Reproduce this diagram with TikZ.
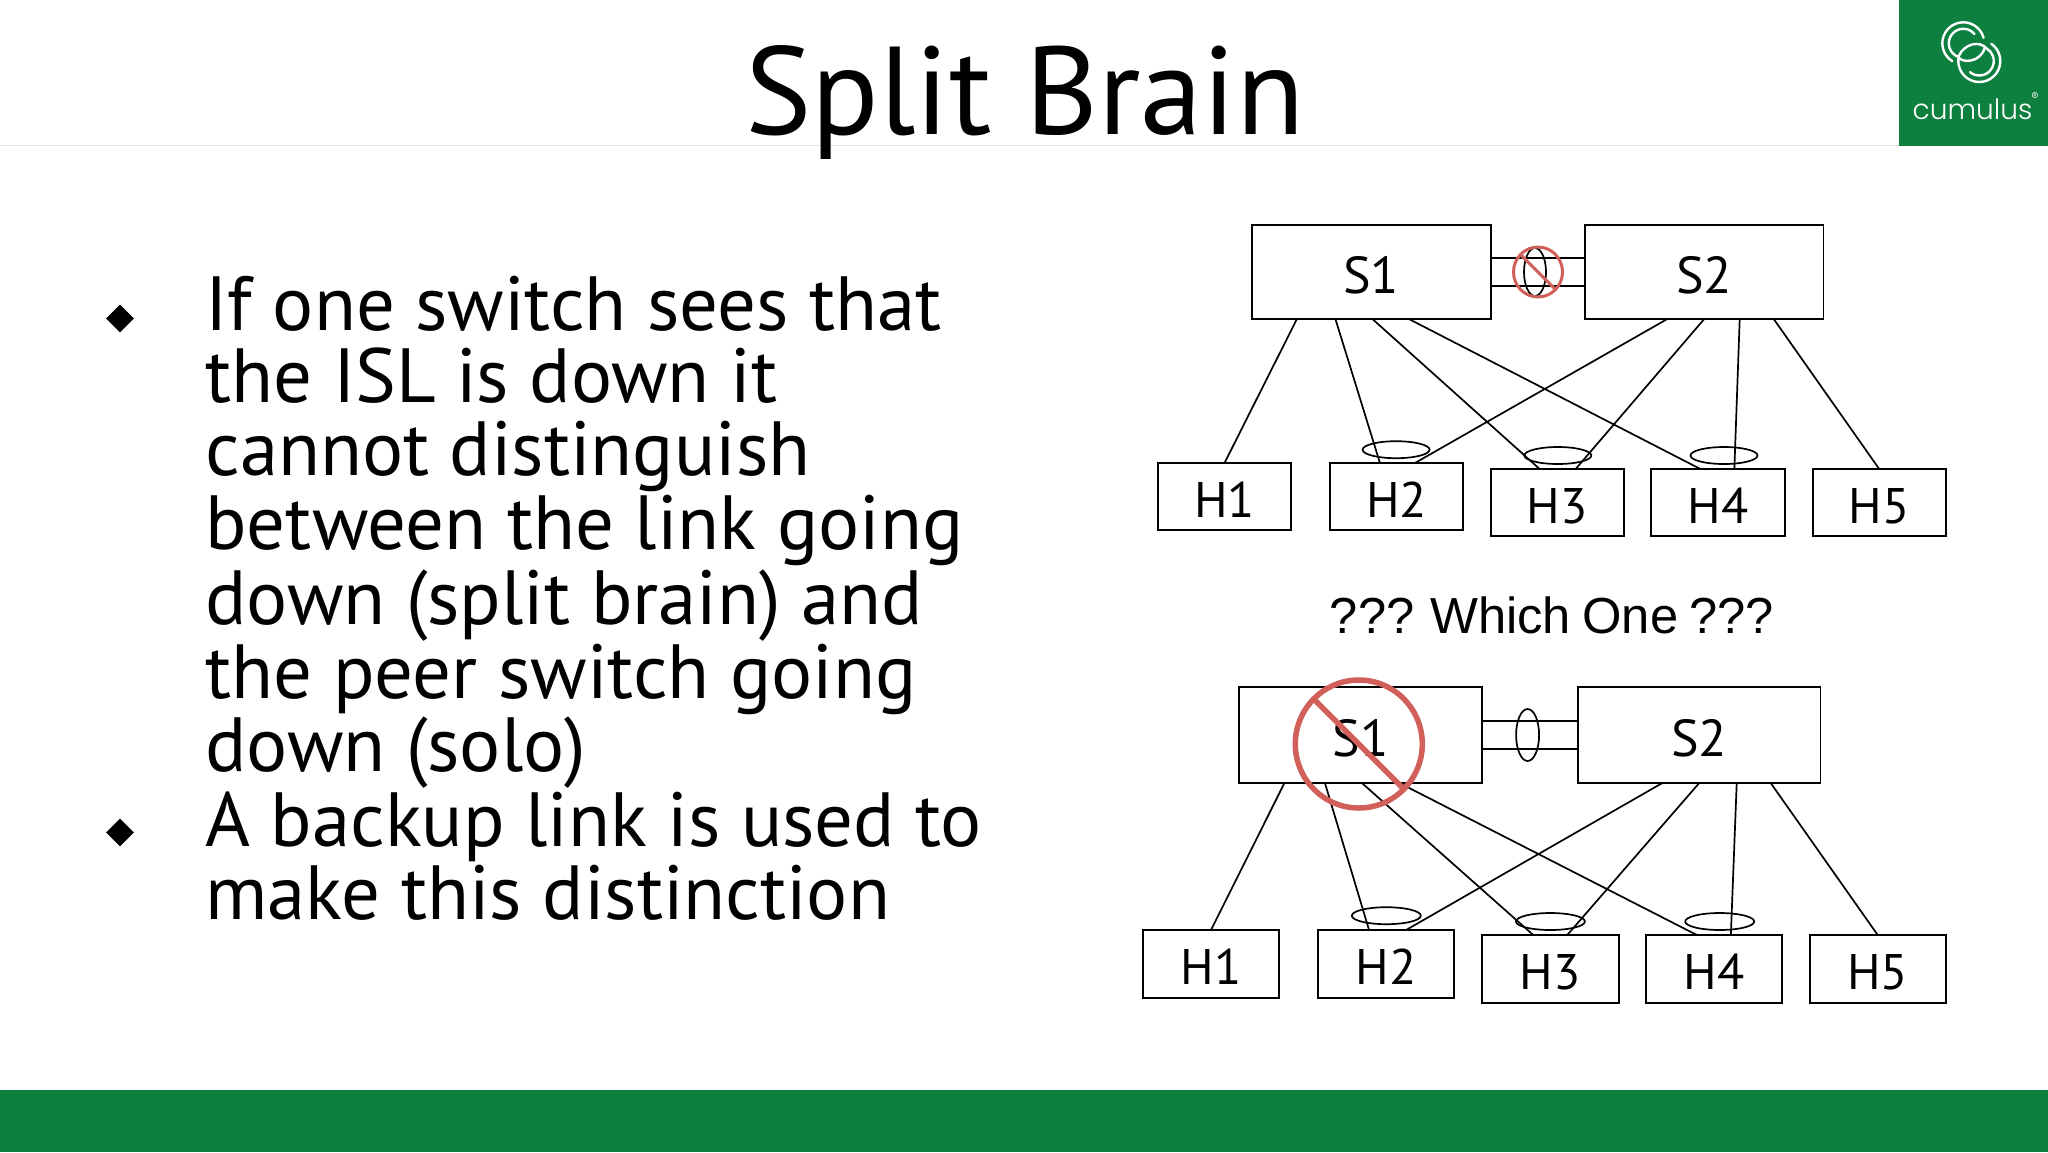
\documentclass[tikz,border=0pt]{standalone}
\usepackage{fontspec}
\setmainfont{PT Sans}
\newfontfamily\arialf[WordSpace=0.8]{Liberation Sans}
\newfontfamily\logof{Poppins Light}
\usetikzlibrary{shapes.geometric}
\definecolor{cgreen}{HTML}{0D7F3E}
\definecolor{cred}{HTML}{D2605A}
\tikzset{
  boxn/.style={draw=black,line width=1.9pt,fill=white,inner sep=0pt,outer sep=0pt,align=center,text height=41pt,text depth=0pt,font=\fontsize{50}{50}\selectfont},
  sw/.style={boxn,minimum width=238.8pt,minimum height=94pt,text height=42.5pt,font=\fontsize{52}{52}\selectfont},
  swb/.style={boxn,minimum width=242.8pt,minimum height=96pt,text height=42.5pt,font=\fontsize{52}{52}\selectfont},
  hst/.style={boxn,minimum width=133.3pt,minimum height=67pt},
  hstb/.style={boxn,minimum width=136.3pt,minimum height=68pt},
  lnk/.style={draw=black,line width=1.7pt},
  lag/.style={draw=black,line width=1.7pt,ellipse,minimum width=0pt,inner sep=0pt,outer sep=0pt},
  nope/.style={draw=cred,ellipse,inner sep=0pt,outer sep=0pt},
  slash/.style={draw=cred,line cap=round},
  bodyt/.style={anchor=base west,inner sep=0pt,outer sep=0pt,font=\fontsize{76.8}{76.8}\selectfont},
  bull/.style={diamond,fill=black,inner sep=0pt,minimum width=28pt,minimum height=28pt},
  ring/.style={draw=white,line width=2.4pt,line cap=round}
}
\begin{document}
\begin{tikzpicture}[x=1pt,y=-1pt]
\useasboundingbox (0,0) rectangle (2048,1152);
\fill[white] (0,0) rectangle (2048,1152);
% header and footer
\draw[draw=black!12,line width=1.2pt] (0,145.5) -- (1899,145.5);
\fill[cgreen] (1899,0) rectangle (2048,146);
\fill[cgreen] (0,1090) rectangle (2048,1152);
% title
\node[anchor=base,inner sep=0pt,font=\fontsize{125}{125}\selectfont] (title) at (1025,134) {Split Brain};
% logo
\begin{scope}[shift={(1963.3,43.3)},x=1pt,y=1pt]
  \draw[ring] (-122:21) arc[start angle=-122,delta angle=-223,radius=21pt];
  \draw[ring] (40:14.5) arc[start angle=40,delta angle=210,radius=14.5pt]
     .. controls (-2,-20) and (18,-20) .. (21.7,-3.3);
\end{scope}
\begin{scope}[shift={(1979.3,61)},x=1pt,y=1pt]
  \draw[ring] (55:21) arc[start angle=55,delta angle=-250,radius=21pt]
     .. controls (-15,17) and (0,21) .. (7.3,12.5);
  \draw[ring] (-130:14.5) arc[start angle=-130,delta angle=190,radius=14.5pt];
\end{scope}
\node[anchor=base,inner sep=0pt,text=white,font=\logof\fontsize{28}{28}\selectfont] (logotext) at (1972.5,119) {cumulus};
\node[anchor=center,inner sep=0pt,text=white,font=\fontsize{11}{11}\selectfont] (logoreg) at (2035,97) {®};
% body
\node[bull] (b1) at (120,318.5) {};
\node[bull] (b2) at (120,832.5) {};
\node[bodyt] (t1) at (205.5,330) {If one switch sees that};
\node[bodyt] (t2) at (205.5,402) {the ISL is down it};
\node[bodyt] (t3) at (205.5,475) {cannot distinguish};
\node[bodyt] (t4) at (205.5,549) {between the link going};
\node[bodyt] (t5) at (205.5,624) {down (split brain) and};
\node[bodyt] (t6) at (205.5,698) {the peer switch going};
\node[bodyt] (t7) at (205.5,771) {down (solo)};
\node[bodyt] (t8) at (205.5,846) {A backup link is used to};
\node[bodyt] (t9) at (205.5,919.5) {make this distinction};
% top diagram
\node[sw] (s1a) at (1371.3,272) {S1};
\node[sw] (s2a) at (1704.1,272) {S2};
\node[hst] (h1a) at (1224.5,496.5) {H1};
\node[hst] (h2a) at (1396.6,496.5) {H2};
\node[hst] (h3a) at (1557.3,502.5) {H3};
\node[hst] (h4a) at (1718,502.5) {H4};
\node[hst] (h5a) at (1879.2,502.5) {H5};
\draw[lnk] ([yshift=-14pt]s1a.east) -- ([yshift=-14pt]s2a.west);
\draw[lnk] ([yshift=14pt]s1a.east) -- ([yshift=14pt]s2a.west);
\draw[lnk] ([xshift=45pt]s1a.south west) -- (h1a.north);
\draw[lnk] ([xshift=83.5pt]s1a.south west) -- ([xshift=50pt]h2a.north west);
\draw[lnk] ([xshift=120.5pt]s1a.south west) -- ([xshift=49pt]h3a.north west);
\draw[lnk] ([xshift=157pt]s1a.south west) -- ([xshift=49pt]h4a.north west);
\draw[lnk] ([xshift=82.6pt]s2a.south west) -- ([xshift=85pt]h2a.north west);
\draw[lnk] ([xshift=119.5pt]s2a.south west) -- ([xshift=85pt]h3a.north west);
\draw[lnk] ([xshift=155pt]s2a.south west) -- ([xshift=83pt]h4a.north west);
\draw[lnk] ([xshift=189pt]s2a.south west) -- (h5a.north);
\node[lag,minimum width=22pt,minimum height=48pt] (ia) at (1535,272) {};
\node[lag,minimum width=67pt,minimum height=17pt] (l2a) at (1396.1,449.7) {};
\node[lag,minimum width=67pt,minimum height=17pt] (l3a) at (1557.8,455.5) {};
\node[lag,minimum width=67pt,minimum height=17pt] (l4a) at (1724,455.5) {};
\node[nope,line width=3pt,minimum width=49pt,minimum height=50pt] (xa) at (1538,272) {};
\draw[slash,line width=3pt] (xa.135) -- (xa.-45);
% caption
\node[anchor=base,inner sep=0pt,font=\arialf\fontsize{50.7}{50.7}\selectfont] (which) at (1552,633) {??? Which One ???};
% bottom diagram
\node[swb] (s1b) at (1360.8,735) {S1};
\node[swb] (s2b) at (1699.1,735) {S2};
\node[hstb] (h1b) at (1211,964) {H1};
\node[hstb] (h2b) at (1386.2,964) {H2};
\node[hstb] (h3b) at (1550.4,969) {H3};
\node[hstb] (h4b) at (1714,969) {H4};
\node[hstb] (h5b) at (1877.7,969) {H5};
\draw[lnk] ([yshift=-14pt]s1b.east) -- ([yshift=-14pt]s2b.west);
\draw[lnk] ([yshift=14pt]s1b.east) -- ([yshift=14pt]s2b.west);
\draw[lnk] ([xshift=45pt]s1b.south west) -- (h1b.north);
\draw[lnk] ([xshift=85.5pt]s1b.south west) -- ([xshift=51pt]h2b.north west);
\draw[lnk] ([xshift=122.5pt]s1b.south west) -- ([xshift=51pt]h3b.north west);
\draw[lnk] ([xshift=160pt]s1b.south west) -- ([xshift=51pt]h4b.north west);
\draw[lnk] ([xshift=84.6pt]s2b.south west) -- ([xshift=88pt]h2b.north west);
\draw[lnk] ([xshift=121.5pt]s2b.south west) -- ([xshift=85pt]h3b.north west);
\draw[lnk] ([xshift=159pt]s2b.south west) -- ([xshift=85pt]h4b.north west);
\draw[lnk] ([xshift=193pt]s2b.south west) -- (h5b.north);
\node[lag,minimum width=23pt,minimum height=52pt] (ib) at (1527.6,735) {};
\node[lag,minimum width=69pt,minimum height=17pt] (l2b) at (1386.3,915.7) {};
\node[lag,minimum width=69pt,minimum height=17pt] (l3b) at (1550.4,921.5) {};
\node[lag,minimum width=69pt,minimum height=17pt] (l4b) at (1719.7,921.5) {};
\node[nope,line width=5.5pt,minimum width=127pt,minimum height=128pt] (xb) at (1358.8,744) {};
\draw[slash,line width=5.5pt] (xb.135) -- (xb.-45);
\end{tikzpicture}
\end{document}
